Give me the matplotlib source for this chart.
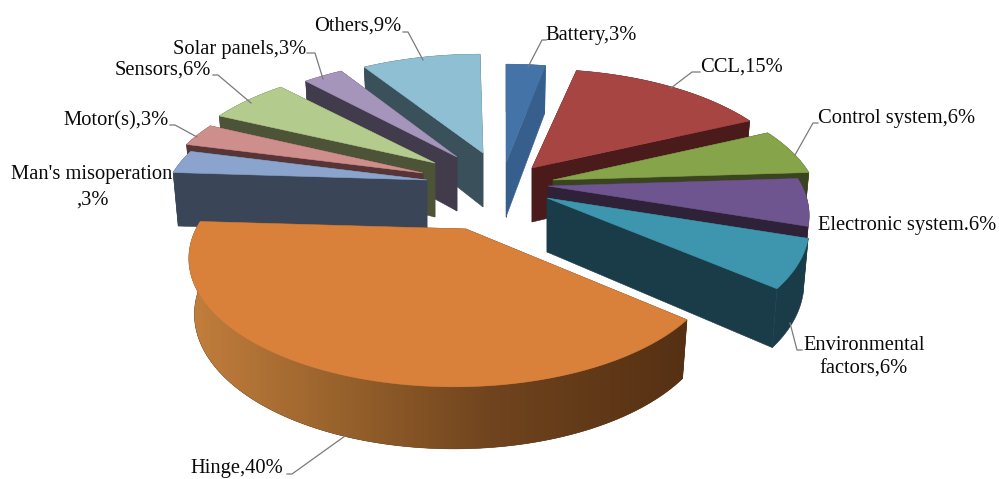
import matplotlib
matplotlib.use("Agg")
import matplotlib.pyplot as plt
from matplotlib.colors import LinearSegmentedColormap
from matplotlib.patches import Polygon
import numpy as np

# clockwise from 12 o'clock
causes = ["Battery", "CCL", "Control system", "Electronic system", "Environmental factors",
          "Hinge", "Man's misoperation", "Motor(s)", "Sensors", "Solar panels", "Others"]
shares = [3, 15, 6, 6, 6, 40, 3, 3, 6, 3, 9]

top_colors = ["#4473A8", "#A64542", "#86A44A", "#6F5590", "#3E96AE", "#D9803A",
              "#8AA4CD", "#CE8E8C", "#B4CB8E", "#A695BB", "#8EBFD2"]
side_colors = ["#365F8D", "#4B1A1A", "#3A451F", "#2E2138", "#1A3C48", "#5A3315",
               "#3B4558", "#573537", "#4C5337", "#423B4C", "#3A505A"]

# how far each slice is pulled out of the pie, pixels
explode_x = [11, 37, 58, 53, 52, -29, -68, -72, -60, -38, -12]
explode_y = [-17, -12, 0, 6, 18, 49, 0, -7, -17, -23, -27]
# perspective nudge of each slice's outer edge
rim_shift = [0, 5, 2, -4, -3, -12, 0, 0, -3, 0, -3]

draw_order = ["Others", "Solar panels", "Sensors", "Motor(s)", "Man's misoperation",
              "Battery", "CCL", "Control system", "Electronic system",
              "Environmental factors", "Hinge"]

CX, CY = 495, 180
RX, RY = 258, 121.5
PERSP = 0.23
DEPTH, DEPTH_PERSP = 54, 0.13
BOTTOM_SHRINK = 0.98

hinge_cmap = LinearSegmentedColormap.from_list(
    "hinge", [(0, "#C27E3C"), (0.32, "#95602B"), (0.6, "#70441E"), (1, "#553013")])

fig = plt.figure(figsize=(9.99, 4.79), dpi=100)
ax = fig.add_axes([0, 0, 1, 1])
ax.set_xlim(0, 999)
ax.set_ylim(479, 0)
ax.axis("off")


def rim(theta, ax0, ay0, shift=0.0):
    u, v = np.sin(theta), np.cos(theta)
    w = 1 / (1 + PERSP * v)
    return ax0 + RX * u * w + shift, ay0 - RY * v * w, DEPTH / (1 + DEPTH_PERSP * v)


def poly(pts, color, z):
    p = Polygon(pts, closed=True, fc=color, ec=color, lw=0.4, zorder=z)
    ax.add_patch(p)
    return p


fractions = np.cumsum([0] + shares) / sum(shares) * 2 * np.pi
z = 1
for name in draw_order:
    i = causes.index(name)
    a0, a1 = fractions[i], fractions[i + 1]
    ax0, ay0 = CX + explode_x[i], CY + explode_y[i]
    th = np.linspace(a0, a1, max(int(shares[i] * 6), 12))
    x, y, d = rim(th, ax0, ay0, rim_shift[i])
    xb = ax0 + (x - ax0) * BOTTOM_SHRINK
    # cut faces
    for k in [0, -1]:
        poly([(ax0, ay0), (x[k], y[k]), (xb[k], y[k] + d[k]), (ax0, ay0 + DEPTH)], side_colors[i], z)
    # outer wall
    pts = list(zip(x, y)) + list(zip(xb[::-1], (y + d)[::-1]))
    wall = poly(pts, side_colors[i], z)
    if name == "Hinge":
        # left to right shading on the wall, clipped to its outline
        grad = ax.imshow(np.linspace(0, 1, 256)[None, :], cmap=hinge_cmap, aspect="auto",
                         extent=(190, 690, 479, 0), zorder=z + 0.2)
        grad.set_clip_path(wall)
    # top
    poly([(ax0, ay0)] + list(zip(x, y)), top_colors[i], z + 0.5)
    z += 1
ax.set_xlim(0, 999)
ax.set_ylim(479, 0)

font = dict(family="Liberation Serif", fontsize=14.8, color="#0A0A0A", zorder=40)
ax.text(545, 35, "Battery,3%", ha="left", va="center", **font)
ax.text(700, 67, "CCL,15%", ha="left", va="center", **font)
ax.text(818, 118, "Control system,6%", ha="left", va="center", **font)
ax.text(818, 225, "Electronic system.6%", ha="left", va="center", **font)
ax.text(864, 346, "Environmental", ha="center", va="center", **font)
ax.text(864, 369, "factors,6%", ha="center", va="center", **font)
ax.text(190, 469, "Hinge,40%", ha="left", va="center", **font)
ax.text(11, 175, "Man's misoperation", ha="left", va="center", **font)
ax.text(92, 200, ",3%", ha="center", va="center", **font)
ax.text(63, 121, "Motor(s),3%", ha="left", va="center", **font)
ax.text(115, 70, "Sensors,6%", ha="left", va="center", **font)
ax.text(173, 49, "Solar panels,3%", ha="left", va="center", **font)
ax.text(314, 26, "Others,9%", ha="left", va="center", **font)

leaders = [
    [(528, 67), (542, 40), (546, 40)],
    [(671, 88), (692, 72), (700, 72)],
    [(795, 155), (813, 123), (818, 123)],
    [(790, 323), (797, 350), (802, 350)],
    [(345, 436), (292, 474), (287, 474)],
    [(197, 137), (175, 125), (170, 125)],
    [(251, 103), (218, 75), (213, 75)],
    [(323, 79), (315, 53), (307, 53)],
    [(423, 60), (408, 32), (403, 32)],
]
for pts in leaders:
    xs, ys = zip(*pts)
    ax.plot(xs, ys, color="#7A7A7A", lw=0.9, zorder=35)

fig.savefig("out.png", dpi=100)
